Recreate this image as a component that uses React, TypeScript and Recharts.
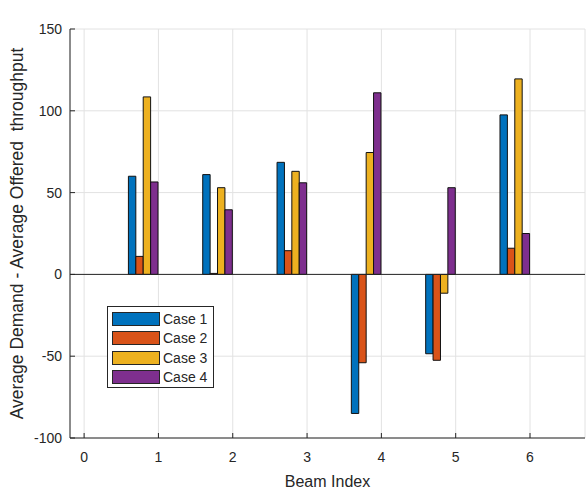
import {
  Bar,
  BarChart,
  CartesianGrid,
  Legend,
  ReferenceLine,
  XAxis,
  YAxis,
} from "recharts";

const beams = [1, 2, 3, 4, 5, 6];
const case1 = [60, 61, 68.5, -85, -48.5, 97.5];
const case2 = [11, 0.6, 14.5, -54, -52.5, 16];
const case3 = [108.5, 53, 63, 74.5, -11.5, 119.5];
const case4 = [56.5, 39.5, 56, 111, 53, 25];

const caseNames = ["Case 1", "Case 2", "Case 3", "Case 4"];
const caseColors = ["#0072BD", "#D95319", "#EDB120", "#7E2F8E"];
const caseKeys = ["c1", "c2", "c3", "c4"];

const xTicks = [0, 1, 2, 3, 4, 5, 6];
const yTicks = [-100, -50, 0, 50, 100, 150];

// the original groups sit a bit left of each tick
const groupShift = -0.2;

const data = beams.map((b, i) => ({
  pos: b + groupShift,
  c1: case1[i],
  c2: case2[i],
  c3: case3[i],
  c4: case4[i],
}));

const ink = "#262626";
const gridColor = "#e2e2e2";

function CaseLegend() {
  return (
    <div
      style={{
        boxSizing: "border-box",
        width: 107,
        height: 82,
        border: `1px solid ${ink}`,
        background: "#fff",
        padding: "2px 0 0 4px",
      }}
    >
      {caseNames.map((n, i) => (
        <div
          key={n}
          style={{ display: "flex", alignItems: "center", height: 19.5 }}
        >
          <span
            style={{
              boxSizing: "border-box",
              width: 48,
              height: 14,
              background: caseColors[i],
              border: `1px solid ${ink}`,
            }}
          />
          <span style={{ marginLeft: 3, fontSize: 14, color: ink }}>{n}</span>
        </div>
      ))}
    </div>
  );
}

export default function App() {
  return (
    <div
      style={{
        position: "absolute",
        left: 0,
        top: 0,
        fontFamily: "'Liberation Sans', Arial, sans-serif",
      }}
    >
      <BarChart
        width={586}
        height={493}
        data={data}
        margin={{ top: 29, right: 1, bottom: 0, left: 0 }}
        barGap={0}
        barSize={7.4}
      >
        <CartesianGrid stroke={gridColor} strokeWidth={1} />
        <XAxis
          dataKey="pos"
          type="number"
          domain={[-0.19, 6.74]}
          ticks={xTicks}
          interval={0}
          allowDataOverflow
          height={55}
          stroke={ink}
          tickSize={-5}
          tickMargin={19}
          tick={{ fill: ink, fontSize: 14 }}
          label={{
            value: "Beam Index",
            position: "insideBottom",
            offset: 6,
            fill: ink,
            fontSize: 16,
          }}
        />
        <XAxis
          xAxisId="top"
          orientation="top"
          type="number"
          domain={[-0.19, 6.74]}
          ticks={xTicks}
          interval={0}
          allowDataOverflow
          height={0}
          stroke={ink}
          tickSize={-5}
          tick={() => <g />}
          label={{
            value: "Demand Satisfaction of 6 beams",
            position: "top",
            offset: 9,
            fill: "#000",
            fontSize: 17,
            fontWeight: "bold",
          }}
        />
        <YAxis
          type="number"
          domain={[-100, 150]}
          ticks={yTicks}
          interval={0}
          allowDataOverflow
          width={70}
          stroke={ink}
          tickSize={-5}
          tickMargin={13}
          tick={{ fill: ink, fontSize: 14 }}
          label={{
            value: "Average Demand - Average Offered \u00a0throughput",
            angle: -90,
            position: "center",
            dx: -18,
            fill: ink,
            fontSize: 17.5,
          }}
        />
        <YAxis
          yAxisId="right"
          orientation="right"
          type="number"
          domain={[-100, 150]}
          ticks={yTicks}
          interval={0}
          allowDataOverflow
          width={0}
          stroke={ink}
          tickSize={-5}
          tick={() => <g />}
        />
        <ReferenceLine y={0} stroke={ink} strokeWidth={1} />
        <Legend
          layout="vertical"
          align="center"
          verticalAlign="middle"
          content={() => <CaseLegend />}
          wrapperStyle={{ left: 107, top: 306, width: 107, height: 82 }}
        />
        {caseKeys.map((k, i) => (
          <Bar
            key={k}
            dataKey={k}
            name={caseNames[i]}
            fill={caseColors[i]}
            stroke="#111"
            strokeWidth={1}
            isAnimationActive={false}
          />
        ))}
      </BarChart>
    </div>
  );
}
